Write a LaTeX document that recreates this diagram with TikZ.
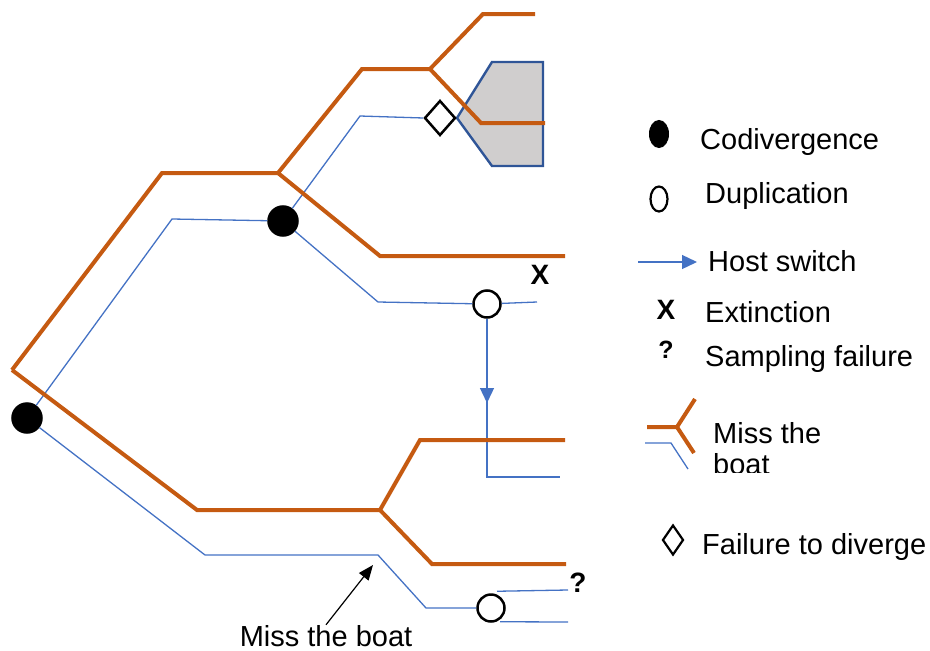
\documentclass[tikz,border=0pt]{standalone}
\usepackage{fontspec}
\setmainfont{Liberation Sans}
\usetikzlibrary{shapes.geometric,arrows.meta}
\definecolor{hostc}{HTML}{C55A11}
\definecolor{parc}{HTML}{4472C4}
\definecolor{polyb}{HTML}{2F5597}
\definecolor{polyf}{HTML}{D0CECE}
\begin{document}
\begin{tikzpicture}[x=1pt,y=-1pt,
  host/.style={hostc,line width=4pt},
  para/.style={parc,line width=1.3pt},
  codiv/.style={circle,fill=black,draw=black,line width=2.5pt,minimum size=29pt,inner sep=0pt},
  dupl/.style={circle,fill=white,draw=black,line width=2.5pt,minimum size=27pt,inner sep=0pt},
  fdiv/.style={diamond,fill=white,draw=black,line width=2.5pt,inner sep=0pt},
  lab/.style={font=\fontsize{29}{31}\selectfont,anchor=base west,inner sep=0pt},
  sym/.style={font=\fontsize{28}{30}\selectfont\bfseries,anchor=base,inner sep=0pt},
  swtip/.style={-{Triangle[length=15pt,width=14pt]}}
]
\useasboundingbox (0,0) rectangle (930,651);

% grey polygon (failure to diverge)
\draw[polyb,fill=polyf,line width=2.4pt,line join=miter] (457,118) -- (492,62) -- (543,62) -- (543,166) -- (492,166) -- cycle;

% parasite nodes
\node[codiv] (p0) at (27,418) {};
\node[codiv] (p1) at (283,221) {};
\node[dupl] (d1) at (487,304) {};
\node[dupl] (d2) at (491,608) {};
\node[fdiv,minimum width=31pt,minimum height=35pt] (f1) at (440,118) {};

% parasite coordinates
\coordinate (pa) at (172,219);
\coordinate (pb) at (360,116);
\coordinate (pc) at (378,302);
\coordinate (pe) at (537,302);
\coordinate (sw) at (487,477);
\coordinate (swt) at (487,403);
\coordinate (swe) at (560,477);
\coordinate (pf) at (205,555);
\coordinate (pg) at (378,555);
\coordinate (ph) at (426,608);
\coordinate (e2a) at (568,590);
\coordinate (e2b) at (568,622);

% parasite lines
\draw[para] (p0) -- (pa) -- (p1);
\draw[para] (p1) -- (pb) -- (f1.west);
\draw[para] (p1) -- (pc) -- (d1);
\draw[para] (d1) -- (pe);
\draw[para] (d1) -- (sw) -- (swe);
\draw[para,swtip] (d1) -- (swt);
\draw[para] (p0) -- (pf) -- (pg) -- (ph) -- (d2);
\draw[para] ([xshift=6pt,yshift=2pt]d2.north) -- (e2a);
\draw[para] ([xshift=9pt,yshift=1pt]d2.south) -- (e2b);

% host tree
\coordinate (h0) at (12,370);
\coordinate (h1) at (162,173);
\coordinate (h2) at (278,173);
\coordinate (h3) at (362,69);
\coordinate (h4) at (430,69);
\coordinate (h5) at (483,14);
\coordinate (h6) at (535,14);
\coordinate (h7) at (481,123);
\coordinate (h8) at (545,123);
\coordinate (h9) at (380,256);
\coordinate (h10) at (565,256);
\coordinate (h11) at (197,510);
\coordinate (h12) at (380,510);
\coordinate (h13) at (420,440);
\coordinate (h14) at (565,440);
\coordinate (h15) at (432,564);
\coordinate (h16) at (566,564);
\draw[host] (h0) -- (h1) -- (h2) -- (h3) -- (h4) -- (h5) -- (h6);
\draw[host] (h4) -- (h7) -- (h8);
\draw[host] (h2) -- (h9) -- (h10);
\draw[host] (h0) -- (h11) -- (h12) -- (h13) -- (h14);
\draw[host] (h12) -- (h15) -- (h16);

% marks on tree
\node[sym] (xt) at (540,284) {X};
\node[sym,font=\fontsize{28}{30}\selectfont\bfseries] (qt) at (578,592) {?};

% miss the boat annotation
\node[lab,anchor=base] (mtb) at (326,646) {Miss the boat};
\coordinate (mtbtip) at (373,565);
\draw[line width=1.2pt,-{Triangle[length=15pt,width=12pt]}] (mtb.north) -- (mtbtip);

% legend
\node[ellipse,fill=black,draw=black,line width=1pt,minimum width=19pt,minimum height=27pt,inner sep=0pt] (lc) at (659,134) {};
\node[lab] (tc) at (700,149) {Codivergence};
\node[ellipse,fill=white,draw=black,line width=2.2pt,minimum width=17pt,minimum height=25pt,inner sep=0pt] (ld) at (659,199) {};
\node[lab] (td) at (705,203) {Duplication};
\coordinate (la0) at (638,262);
\coordinate (la1) at (697,262);
\draw[para,swtip] (la0) -- (la1);
\node[lab] (th) at (708,271) {Host switch};
\node[sym] (lx) at (666,319) {X};
\node[lab] (tx) at (705,322) {Extinction};
\node[sym,font=\fontsize{25}{27}\selectfont\bfseries] (lq) at (666,358) {?};
\node[lab] (tq) at (705,366) {Sampling failure};
\coordinate (m0) at (647,427);
\coordinate (m1) at (677,427);
\coordinate (m2) at (695,399);
\coordinate (m3) at (694,453);
\coordinate (n0) at (645,443);
\coordinate (n1) at (671,443);
\coordinate (n2) at (688,469);
\draw[host] (m0) -- (m1) -- (m2);
\draw[host] (m1) -- (m3);
\draw[para] (n0) -- (n1) -- (n2);
\begin{scope}
\clip (700,400) rectangle (900,472);
\node[lab] (tm1) at (713,443) {Miss the};
\node[lab] (tm2) at (713,474) {boat};
\end{scope}
\node[fdiv,minimum width=21pt,minimum height=30pt,line width=2.2pt] (lf) at (673,540) {};
\node[lab] (tf) at (702,554) {Failure to diverge};
\end{tikzpicture}
\end{document}
